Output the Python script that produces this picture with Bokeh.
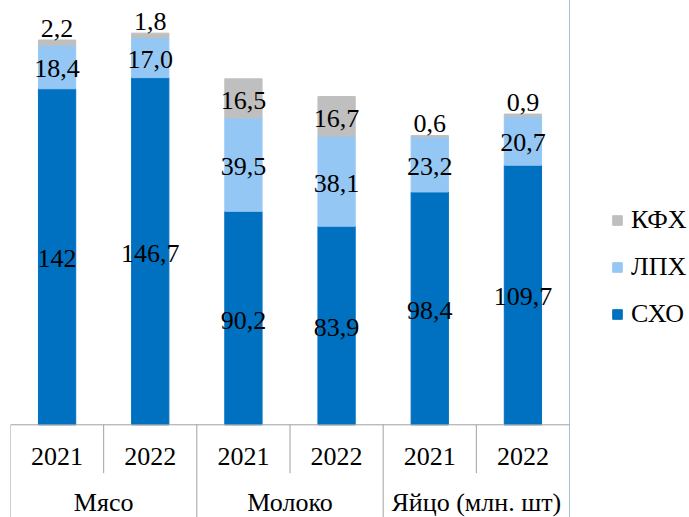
from bokeh.plotting import figure
from bokeh.layouts import row
from bokeh.models import ColumnDataSource, FactorRange, Range1d, Legend, LegendItem
from bokeh.core.properties import value
from bokeh.embed import file_html
from bokeh.resources import INLINE

groups = ["Мясо", "Молоко", "Яйцо (млн. шт)"]
years = ["2021", "2022"]
skho = [142, 146.7, 90.2, 83.9, 98.4, 109.7]
lph = [18.4, 17.0, 39.5, 38.1, 23.2, 20.7]
kfh = [2.2, 1.8, 16.5, 16.7, 0.6, 0.9]
series = ["СХО", "ЛПХ", "КФХ"]
colors = ["#0070C0", "#95C7F5", "#BFBFBF"]

factors = [(g, y) for g in groups for y in years]
FONT = "Liberation Serif"
FS = "26px"


def fmt(v):
    if isinstance(v, int):
        return str(v)
    return f"{v:.1f}".replace(".", ",")


src = ColumnDataSource(dict(x=factors, СХО=skho, ЛПХ=lph, КФХ=kfh))

H = 517
Y0, Y1 = -39.18, 179.3
p = figure(
    x_range=FactorRange(*factors, group_padding=0, factor_padding=0, range_padding=0),
    y_range=Range1d(Y0, Y1),
    width=569, height=H,
    output_backend="svg", toolbar_location=None,
    min_border_left=10, min_border_right=0, min_border_top=0, min_border_bottom=0,
)
p.xaxis.visible = False
p.yaxis.visible = False
p.grid.visible = False
p.outline_line_color = None
p.background_fill_color = "white"
p.border_fill_color = "white"

rs = p.vbar_stack(series, x="x", width=0.4, color=colors, source=src)

# value labels
cx, cy, ct = [], [], []
tx, ty, tt = [], [], []
for i, f in enumerate(factors):
    base = 0
    for vals in (skho, lph, kfh):
        v = vals[i]
        if v < 5:
            tx.append(f); ty.append(base + v); tt.append(fmt(v))
        else:
            cx.append(f); cy.append(base + v / 2); ct.append(fmt(v))
        base += v

p.text(x=cx, y=cy, text=ct, text_font=value(FONT), text_font_size=FS,
       text_align="center", text_baseline="middle", y_offset=2, text_color="black")
p.text(x=tx, y=ty, text=tt, text_font=value(FONT), text_font_size=FS,
       text_align="center", text_baseline="middle", y_offset=-12, text_color="black")

# category axis drawn as boxes
pxu = H / (Y1 - Y0)
short = -48.4 / pxu
grid_col = "#A0A0A0"
p.segment(x0=[factors[0] + (-0.5,)], x1=[factors[-1] + (0.5,)], y0=[0], y1=[0],
          line_color=grid_col, line_width=1)
lx = [(g, years[0], -0.5) for g in groups]
lx.append((groups[-1], years[-1], 0.5))
p.segment(x0=lx, x1=lx, y0=[0] * len(lx), y1=[Y0] * len(lx), line_color=grid_col, line_width=1)
sx = [(g, years[0], 0.5) for g in groups]
p.segment(x0=sx, x1=sx, y0=[0] * len(sx), y1=[short] * len(sx), line_color=grid_col, line_width=1)

p.text(x=factors, y=[0] * len(factors), text=[f[1] for f in factors], text_font=value(FONT),
       text_font_size=FS, text_align="center", text_baseline="middle", y_offset=32,
       text_color="black")
p.text(x=groups, y=[0] * len(groups), text=groups, text_font=value(FONT),
       text_font_size=FS, text_align="center", text_baseline="middle", y_offset=78,
       text_color="black")

# legend panel (its swatches come from placeholder bars lying outside the visible range)
pl = figure(
    x_range=Range1d(0, 1), y_range=Range1d(0, 1),
    width=120, height=H,
    output_backend="svg", toolbar_location=None,
    min_border_left=0, min_border_right=0, min_border_top=0, min_border_bottom=0,
)
pl.xaxis.visible = False
pl.yaxis.visible = False
pl.grid.visible = False
pl.outline_line_color = None
pl.border_fill_color = "white"
lr = [pl.vbar(x=[-10], top=[1], width=0.5, color=c) for c in colors]

legend = Legend(
    items=[LegendItem(label=s, renderers=[r]) for s, r in reversed(list(zip(series, lr)))],
    location=(42, 188),
    label_text_font=FONT, label_text_font_size=FS, label_text_color="black",
    glyph_width=12, glyph_height=12, label_height=29, label_standoff=8,
    spacing=17, padding=0, margin=0,
    border_line_color=None, background_fill_alpha=0,
)
pl.add_layout(legend)

layout = row(p, pl, spacing=0)
open("out.html", "w").write(file_html(layout, INLINE))
